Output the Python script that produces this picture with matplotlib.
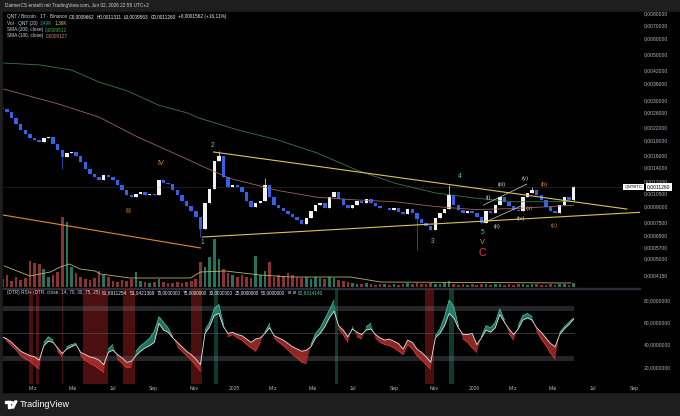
import numpy as np
import pandas as pd
import matplotlib
matplotlib.use("Agg")
import matplotlib.pyplot as plt
from matplotlib.patches import Rectangle, Circle, Polygon

plt.rcParams["font.family"] = ["Liberation Sans", "DejaVu Sans"]

# weekly candles QNT/BTC, prices in 1e-5 BTC
first_open = 275
closes = [271, 262, 245, 228, 213, 205, 196, 190, 186, 195,
          198, 182, 170, 158, 164, 166, 160, 148, 138, 130,
          126, 122, 128, 126, 121, 115, 108, 103, 100, 104,
          106, 103, 104, 102, 121, 117, 116, 108, 102, 96,
          91, 86, 80, 70, 94, 110, 150, 160, 125, 112,
          115, 112, 106, 96, 90, 94, 96, 115, 100, 92,
          89, 86, 83, 80, 77, 74, 79, 86, 92, 94,
          89, 100, 106, 98, 92, 89, 92, 96, 94, 98,
          94, 91, 89, 89, 87, 89, 85, 83, 88, 84,
          78, 75, 72, 69, 79, 84, 88, 102, 92, 87,
          84, 86, 84, 80, 75, 86, 84, 92, 100, 95,
          91, 87, 86, 100, 105, 108, 102, 97, 90, 86,
          84, 92, 100, 96.6, 112.6]
volumes = [8, 12, 6, 10, 7, 9, 26, 24, 23, 18,
           10, 12, 15, 70, 65, 20, 14, 10, 8, 7,
           9, 16, 12, 10, 6, 5, 7, 6, 8, 15,
           6, 5, 4, 5, 8, 5, 4, 4, 5, 4,
           5, 6, 8, 25, 20, 30, 48, 28, 18, 14,
           12, 10, 12, 10, 9, 31, 12, 16, 25, 10,
           12, 11, 14, 12, 10, 9, 10, 8, 10, 9,
           8, 10, 9, 7, 6, 5, 4, 3, 3, 4,
           3, 2, 3, 3, 2, 3, 2, 3, 4, 3,
           4, 3, 3, 4, 3, 3, 4, 6, 3, 2,
           3, 2, 3, 2, 3, 3, 2, 3, 3, 2,
           3, 2, 3, 3, 2, 3, 3, 2, 2, 3,
           2, 3, 3, 2, 4]
rsi = [47, 45, 42, 38, 34, 32, 30, 29, 26, 39,
       43, 42, 37, 32, 36, 38, 40, 33, 31, 29,
       28, 26, 22, 33, 35, 31, 28, 24, 25, 30,
       34, 37, 39, 42, 59, 53, 51, 46, 42, 38,
       34, 31, 27, 22, 50, 56, 66, 68, 56, 50,
       51, 49, 48, 45, 42, 45, 46, 50, 55, 48,
       46, 44, 41, 38, 36, 34, 35, 38, 46, 50,
       56, 64, 70, 57, 53, 47, 54, 51, 49, 53,
       54, 49, 46, 44, 45, 43, 41, 36, 44, 42,
       36, 33, 29, 24, 46, 50, 57, 68, 64, 55,
       49, 49, 50, 40, 46, 53, 51, 55, 67, 60,
       54, 49, 54, 62, 64, 62, 55, 51, 46, 41,
       38, 49, 54, 58, 62.6]
rsi_edge = [47, 43, 39, 35, 30, 27, 25, 21, 18, 42,
            47, 44, 34, 29, 38, 40, 41, 30, 26, 23,
            21, 18, 15, 36, 40, 27, 23, 19, 20, 34,
            39, 42, 46, 52, 65, 60, 55, 47, 38, 34,
            30, 26, 21, 16, 53, 60, 72, 76, 58, 47,
            49, 46, 44, 40, 37, 34, 42, 51, 59, 46,
            42, 39, 35, 31, 28, 24, 23, 40, 50, 55,
            63, 71, 80, 54, 49, 42, 57, 47, 45, 56,
            59, 46, 42, 40, 39, 37, 34, 31, 40, 36,
            30, 26, 22, 18, 48, 54, 65, 80, 74, 57,
            45, 42, 37, 33, 47, 57, 55, 60, 72, 62,
            50, 44, 57, 66, 68, 65, 52, 45, 39, 32,
            27, 51, 56, 60, 64]
dates = pd.date_range("2024-01-15", periods=len(closes), freq="7D")

wick_hi = {"2024-12-09": 168, "2025-02-17": 124, "2025-11-24": 115,
           "2026-03-30": 112, "2026-06-01": 113.1}
wick_lo = {"2024-04-15": 137, "2024-11-11": 64, "2025-10-06": 55,
           "2026-06-01": 95.6}

sma200_dates = ["2024-01-17", "2024-03-12", "2024-04-29", "2024-06-10", "2024-07-23",
                "2024-09-08", "2024-10-22", "2024-11-08", "2025-01-06", "2025-03-08",
                "2025-05-07", "2025-07-06", "2025-09-03", "2025-11-03", "2026-01-02",
                "2026-03-03", "2026-06-01"]
sma200 = [455, 445, 420, 367, 332, 283, 259, 245, 214, 191, 165, 136, 117, 105, 99, 95, 95.1]
sma100_dates = ["2024-01-17", "2024-04-10", "2024-06-10", "2024-08-08", "2024-10-08",
                "2024-11-20", "2024-12-25", "2025-03-08", "2025-05-07", "2025-07-06",
                "2025-09-03", "2025-11-03", "2026-01-02", "2026-03-03", "2026-06-01"]
sma100 = [339, 286, 247, 197, 161, 139, 124, 108, 100, 97, 95, 90, 87, 88, 91.3]
volma_dates = ["2024-01-18", "2024-02-26", "2024-03-28", "2024-04-12", "2024-04-26",
               "2024-05-12", "2024-06-04", "2024-06-12", "2024-07-27", "2024-10-27",
               "2024-11-11", "2024-12-19", "2025-02-10", "2025-03-28", "2025-06-27",
               "2025-08-12", "2026-05-28"]
volma = [21, 11, 15, 20, 23, 18, 16, 13, 9, 9, 15, 16, 12, 10, 10, 5, 4]

trend_upper = (["2024-12-01", "2026-08-21"], [166.6, 87.5])
trend_lower = (["2024-11-14", "2026-09-17"], [63.8, 84.6])
orange_line = (["2024-01-16", "2024-11-11"], [81.8, 56.4])
channel_top = (["2026-01-15", "2026-03-22"], [91.5, 116])
channel_bot = (["2026-01-15", "2026-03-16"], [74.8, 91.5])

teal_labels = [("1", "2024-11-14", 60), ("2", "2024-11-29", 180), ("3", "2025-10-30", 60.5),
               ("4", "2025-12-10", 126), ("5", "2026-01-14", 67)]
roman_labels = [("III", "2024-07-24", 85), ("IV", "2024-09-12", 147), ("V", "2026-01-14", 60)]
minor_labels = [("(i)", "2026-01-22", 100), ("(ii)", "2026-02-05", 71.5), ("(iii)", "2026-02-12", 116),
                ("(iv)", "2026-03-13", 79), ("(v)", "2026-03-19", 124)]
abc_labels = [("(a)", "2026-03-26", 88.5), ("(b)", "2026-04-17", 116), ("(c)", "2026-05-02", 73)]

red_spans = [("2024-02-24", "2024-03-02"), ("2024-03-06", "2024-03-10"), ("2024-04-14", "2024-04-16"),
             ("2024-05-17", "2024-06-24"), ("2024-07-17", "2024-08-04"), ("2024-10-27", "2024-11-14"),
             ("2025-10-19", "2025-11-01")]
green_spans = [("2024-12-01", "2024-12-07"), ("2025-06-03", "2025-06-08"), ("2025-11-23", "2025-12-01")]

price_ticks = [0.008, 0.007, 0.006, 0.005, 0.0042, 0.0036, 0.003, 0.0026, 0.0022, 0.0019,
               0.0016, 0.0014, 0.0012, 0.00105, 0.0009, 0.00075, 0.00065, 0.00057, 0.0005, 0.000415]
rsi_ticks = [80, 60, 40, 20]
month_ticks = ["2024-03-01", "2024-05-01", "2024-07-01", "2024-09-01", "2024-11-01", "2025-01-01",
               "2025-03-01", "2025-05-01", "2025-07-01", "2025-09-01", "2025-11-01", "2026-01-01",
               "2026-03-01", "2026-05-01", "2026-07-01", "2026-09-01"]
month_labels = ["Mrz", "Mai", "Jul", "Sep", "Nov", "2025", "Mrz", "Mai", "Jul", "Sep", "Nov", "2026",
                "Mrz", "Mai", "Jul", "Sep"]

S = 1e-5
W, H = 680, 416
GRAY = "#b2b5be"
TXT = "#d1d4dc"
FS = 3.4      # legend / header text
AXFS = 3.6    # axis labels


def fx(x):
    return x / W


def fy(y):
    return 1 - y / H


def d(s):
    return pd.Timestamp(s)


fig = plt.figure(figsize=(6.8, 4.16), dpi=100)
fig.patch.set_facecolor("#1e1e1e")
fig.add_artist(Rectangle((fx(3), fy(392)), fx(677), 380 / H, color="black", zorder=-5))
fig.add_artist(Rectangle((fx(3), fy(288.6)), fx(637), 0.9 / H, color="#2a2e39", zorder=-4))

main_rect = [fx(3), fy(287), fx(637), 275 / H]
rsi_rect = [fx(3), fy(384), fx(637), 95 / H]
xlim = (d("2024-01-16"), d("2026-09-10"))

# volume underlay
axv = fig.add_axes(main_rect)
axv.set_facecolor("none")
axv.set_xlim(xlim)
axv.set_ylim(0, 275)
opens = [first_open] + closes[:-1]
vcol = ["#2a8a72" if c >= o else "#a33a3a" for o, c in zip(opens, closes)]
axv.bar(dates, volumes, width=4.0, color=vcol, alpha=0.85, linewidth=0)
axv.plot(pd.to_datetime(volma_dates), volma, color="#b8b46c", lw=0.6)
axv.axis("off")

ax = fig.add_axes(main_rect)
ax.set_facecolor("none")
ax.set_yscale("log")
ax.set_xlim(xlim)
ax.set_ylim(36.3 * S, 809 * S)

ax.plot(pd.to_datetime(sma200_dates), np.array(sma200) * S, color="#3b7a45", lw=0.6)
ax.plot(pd.to_datetime(sma100_dates), np.array(sma100) * S, color="#9a6464", lw=0.6)
ax.axhline(closes[-1] * S, color="#5d606b", lw=0.4, ls=(0, (1, 1)))

# candles
for dt, o, c in zip(dates, opens, closes):
    key = dt.strftime("%Y-%m-%d")
    col = "#f2f2f2" if c >= o else "#3461e8"
    hi = wick_hi.get(key, max(o, c))
    lo = wick_lo.get(key, min(o, c))
    ax.vlines(dt, lo * S, hi * S, color=col, lw=0.5)
    ax.bar(dt, abs(c - o) * S, bottom=min(o, c) * S, width=5.2, color=col, linewidth=0)

for (xs, ys), col, lw in [(trend_upper, "#d9c35f", 0.8), (trend_lower, "#d9c35f", 0.8),
                          (orange_line, "#e08a2c", 0.8), (channel_top, "#cfcfcf", 0.5),
                          (channel_bot, "#cfcfcf", 0.5)]:
    ax.plot(pd.to_datetime(xs), np.array(ys) * S, color=col, lw=lw)

for t, dt, p in teal_labels:
    ax.text(d(dt), p * S, t, color="#4dc8d8", fontsize=4.8, ha="center", va="center")
for t, dt, p in roman_labels:
    ax.text(d(dt), p * S, t, color="#e08a2c", fontsize=5.2, ha="center", va="center")
ax.text(d("2026-01-14"), 53 * S, "C", color="#f23645", fontsize=7.5, ha="center", va="center")
for t, dt, p in minor_labels:
    ax.text(d(dt), p * S, t, color="#d8d8d8", fontsize=4.2, ha="center", va="center")
for t, dt, p in abc_labels:
    ax.text(d(dt), p * S, t, color="#e08a2c", fontsize=4.2, ha="center", va="center")

ax.yaxis.tick_right()
ax.set_yticks(price_ticks)
ax.set_yticklabels([f"{v:.7f}".replace(".", ",") for v in price_ticks])
ax.yaxis.set_minor_locator(matplotlib.ticker.NullLocator())
ax.tick_params(axis="y", length=0, pad=3, labelsize=AXFS, labelcolor=GRAY)
ax.set_xticks([])
for s in ax.spines.values():
    s.set_visible(False)

# last price tag
ax.text(1.004, closes[-1] * S, "QNTBTC", transform=ax.get_yaxis_transform(), ha="right",
        va="center", fontsize=3.2, color="black",
        bbox=dict(boxstyle="square,pad=0.25", fc="white", ec="white", lw=0))
ax.text(1.011, closes[-1] * S, f"{closes[-1] * S:.7f}".replace(".", ","),
        transform=ax.get_yaxis_transform(), ha="left", va="center", fontsize=AXFS, color="black",
        bbox=dict(boxstyle="square,pad=0.3", fc="white", ec="white", lw=0))

# RSI pane
axr = fig.add_axes(rsi_rect)
axr.set_facecolor("none")
axr.set_xlim(xlim)
axr.set_ylim(4.6, 89.9)
for a, b in red_spans:
    axr.axvspan(d(a), d(b), color="#8a1c1c", alpha=0.55, lw=0)
for a, b in green_spans:
    axr.axvspan(d(a), d(b), color="#1c6b55", alpha=0.55, lw=0)
axr.fill_between([dates[0], dates[-1]], 70, 75, color="#787b86", alpha=0.3, lw=0)
axr.fill_between([dates[0], dates[-1]], 25, 30, color="#787b86", alpha=0.3, lw=0)
axr.plot([dates[0], dates[-1]], [50, 50], color="#4a4d57", lw=0.5)

r = np.array(rsi, dtype=float)
e = np.array(rsi_edge, dtype=float)
axr.fill_between(dates, r, e, where=e >= r, interpolate=True, color="#2a8f74", alpha=0.8, lw=0)
axr.fill_between(dates, r, e, where=e < r, interpolate=True, color="#b3302e", alpha=0.8, lw=0)
axr.plot(dates, np.ma.masked_where(e < r, e), color="#4fd1a5", lw=0.5)
axr.plot(dates, np.ma.masked_where(e >= r, e), color="#e0453a", lw=0.5)
axr.plot(dates, r, color="#e6e6e6", lw=0.6)

axr.yaxis.tick_right()
axr.set_yticks(rsi_ticks)
axr.set_yticklabels([f"{v:.7f}".replace(".", ",") for v in rsi_ticks])
axr.tick_params(axis="y", length=0, pad=3, labelsize=AXFS, labelcolor=GRAY)
axr.set_xticks(pd.to_datetime(month_ticks))
axr.set_xticklabels(month_labels)
axr.tick_params(axis="x", length=0, pad=1.5, labelsize=AXFS, labelcolor=GRAY)
for s in axr.spines.values():
    s.set_visible(False)

# header / legend texts, laid out left to right so pieces never collide
renderer = fig.canvas.get_renderer()


def text_row(y, parts, gap=2.0):
    end = 0
    for x, t, c in parts:
        x = max(x, end + gap)
        tt = fig.text(fx(x), fy(y), t, color=c, fontsize=FS, va="center")
        end = tt.get_window_extent(renderer).x1


fig.text(fx(5), fy(6), "DaimerCS erstellt mit TradingView.com, Jun 02, 2026 22:55 UTC+2",
         color=TXT, fontsize=FS, va="center")
text_row(16.5, [(7, "QNT / Bitcoin · 1T · Binance", TXT), (69, "O0,0009662", "#eeeeee"),
                (96, "H0,0011311", "#eeeeee"), (123, "L0,0009563", "#eeeeee"),
                (149, "C0,0011260", "#eeeeee"), (176, "+0,0001562 (+16,11%)", "#eeeeee")])
text_row(23, [(7, "Vol · QNT (20)", TXT), (39, "3,49K", "#26a69a"), (54, "1,36K", "#e0c050")])
text_row(29.5, [(7, "SMA (200, close)", TXT), (34, "0,0009512", "#4caf50")])
text_row(36, [(7, "SMA (100, close)", TXT), (34, "0,0009127", "#d08080")])
text_row(292.5, [(7, "(DTR) RSI+ (DTR, close, 14, 70, 30, 75, 25)", TXT),
                 (97, "61,8911254", "#eeeeee"), (124, "51,9421369", "#eeeeee"),
                 (151, "70,0000000", "#eeeeee"), (177, "75,0000000", "#eeeeee"),
                 (203, "30,0000000", "#eeeeee"), (229, "25,0000000", "#eeeeee"),
                 (255, "50,0000000", "#eeeeee"), (282, "ø", "#eeeeee"), (287, "ø", "#eeeeee"),
                 (293, "62,6314140", "#4fd1a5")])

# TradingView logo
fig.add_artist(Rectangle((fx(5), fy(403)), fx(5), 2 / H, color="white"))
fig.add_artist(Rectangle((fx(8), fy(408)), fx(2), 7 / H, color="white"))
fig.add_artist(Circle((fx(12), fy(402.5)), 1.2 / W, color="white"))
fig.add_artist(Polygon([(fx(11), fy(408)), (fx(15), fy(401)), (fx(17), fy(401)), (fx(13.5), fy(408))],
                       closed=True, color="white"))
fig.text(fx(20), fy(404.5), "TradingView", color="white", fontsize=6.5, va="center")

fig.savefig("out.png", dpi=100, facecolor=fig.get_facecolor())
